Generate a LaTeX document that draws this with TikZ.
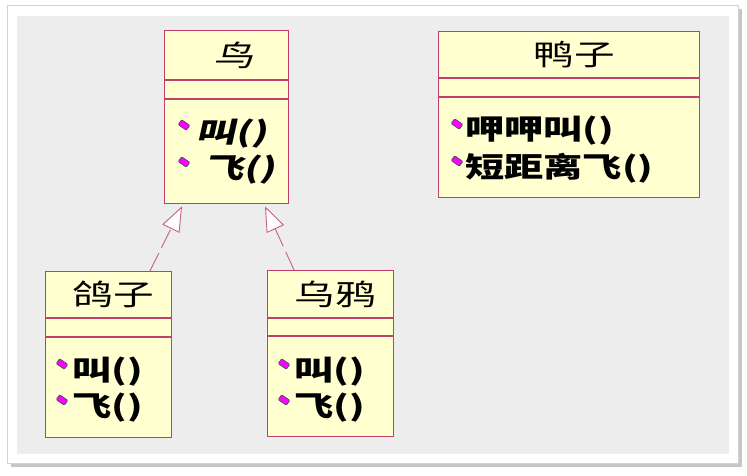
\documentclass[tikz,border=0pt]{standalone}
\usepackage{fontspec}
\usetikzlibrary{arrows.meta,calc}
\newfontfamily\cjk[FakeStretch=1.4]{Noto Sans CJK SC}
\newfontfamily\cjkit[FakeStretch=1.4,FakeSlant=0.22]{Noto Sans CJK SC}
\definecolor{boxfill}{HTML}{FFFFD0}
\definecolor{boxline}{HTML}{C0406A}
\definecolor{conline}{HTML}{C8607F}
\definecolor{panel}{HTML}{EDEDED}
\definecolor{mark}{HTML}{FF00FF}
\definecolor{markedge}{HTML}{305050}
\begin{document}
\begin{tikzpicture}[x=1pt,y=-1pt,
  umlbox/.style={draw=boxline, fill=boxfill, line width=1.3pt, rectangle, inner sep=0pt, anchor=north west},
  sepline/.style={draw=boxline, line width=1.1pt},
  cname/.style={font=\cjk\fontsize{29}{30}\selectfont, inner sep=0pt},
  cnameit/.style={font=\cjkit\fontsize{29}{30}\selectfont, inner sep=0pt},
  meth/.style={font=\cjk\bfseries\fontsize{28}{30}\selectfont, inner sep=0pt, anchor=west},
  methit/.style={font=\cjkit\bfseries\fontsize{28}{30}\selectfont, inner sep=0pt, anchor=west},
  bullet/.style={fill=mark, draw=markedge, line width=0.6pt, rounded corners=1pt, minimum width=10pt, minimum height=6pt, inner sep=0pt, rotate=-35},
  realize/.style={draw=conline, line width=0.9pt, dash pattern=on 20pt off 6pt,
    -{Triangle[open, length=25pt, width=19pt, fill=white, line width=0.9pt]}}
]
\useasboundingbox (0,0) rectangle (747,476);
% frame
\fill[gray!45] (11,9) rectangle (742,467);
\filldraw[fill=white, draw=gray!35, line width=0.8pt] (7,5) rectangle (738,463);
\fill[panel] (17,16) rectangle (729,454);

% Bird (abstract)
\node[umlbox, minimum width=124pt, minimum height=173pt] (bird) at (164,30) {};
\draw[sepline] ($(bird.north west)+(0,50)$) -- ($(bird.north east)+(0,50)$);
\draw[sepline] ($(bird.north west)+(0,69)$) -- ($(bird.north east)+(0,69)$);
\node[cnameit] (birdname) at (234,55) {鸟};
\node[bullet] (bb1) at (184,125) {};
\node[bullet] (bb2) at (184,162) {};
\node[methit] (bm1) at (196,134) {叫()};
\node[methit] (bm2) at (204,170) {飞()};

% Duck
\node[umlbox, minimum width=261pt, minimum height=166pt] (duck) at (438,31) {};
\draw[sepline] ($(duck.north west)+(0,47)$) -- ($(duck.north east)+(0,47)$);
\draw[sepline] ($(duck.north west)+(0,66)$) -- ($(duck.north east)+(0,66)$);
\node[cname] (duckname) at (574,55) {鸭子};
\node[bullet] (db1) at (457,124) {};
\node[bullet] (db2) at (457,161) {};
\node[meth] (dm1) at (465,131) {呷呷叫()};
\node[meth] (dm2) at (465,168) {短距离飞()};

% Pigeon
\node[umlbox, minimum width=126pt, minimum height=166pt] (pig) at (45,271) {};
\draw[sepline] ($(pig.north west)+(0,47)$) -- ($(pig.north east)+(0,47)$);
\draw[sepline] ($(pig.north west)+(0,66)$) -- ($(pig.north east)+(0,66)$);
\node[cname] (pigname) at (113,294) {鸽子};
\node[bullet] (pb1) at (62,364) {};
\node[bullet] (pb2) at (62,400) {};
\node[meth] (pm1) at (72,372) {叫()};
\node[meth] (pm2) at (72,408) {飞()};

% Crow
\node[umlbox, minimum width=126pt, minimum height=166pt] (crow) at (267,270) {};
\draw[sepline] ($(crow.north west)+(0,48)$) -- ($(crow.north east)+(0,48)$);
\draw[sepline] ($(crow.north west)+(0,66)$) -- ($(crow.north east)+(0,66)$);
\node[cname] (crowname) at (335,294) {乌鸦};
\node[bullet] (cb1) at (284,364) {};
\node[bullet] (cb2) at (284,400) {};
\node[meth] (cm1) at (294,372) {叫()};
\node[meth] (cm2) at (294,408) {飞()};

% realizations
\coordinate (pigtop) at ($(pig.north west)+(105,0)$);
\coordinate (birdl) at ($(bird.south west)+(18,2)$);
\coordinate (crowtop) at ($(crow.north west)+(27,0)$);
\coordinate (birdr) at ($(bird.south west)+(101,2)$);
\draw[realize] (pigtop) -- (birdl);
\draw[realize] (crowtop) -- (birdr);
\end{tikzpicture}
\end{document}
